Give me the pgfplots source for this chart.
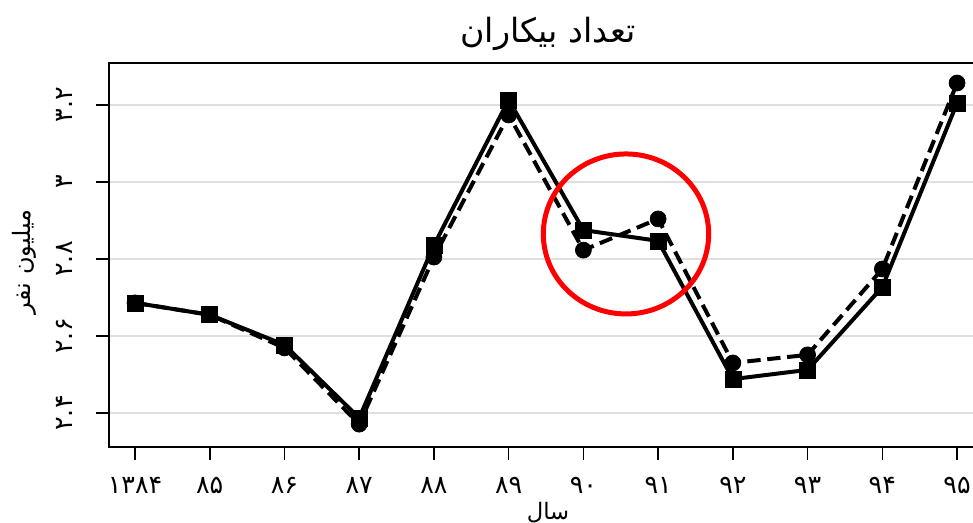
\documentclass[border=0pt]{standalone}
\usepackage{pgfplots}
\pgfplotsset{compat=1.18}
\usepackage{fontspec}
\TeXXeTstate=1
\newfontfamily\arabicfont[Script=Arabic]{DejaVu Sans}
\newfontfamily\digfont{DejaVu Sans}
\begin{document}
\begin{tikzpicture}
\begin{axis}[
  at={(0,0)}, anchor=south west,
  scale only axis, width=653.25pt, height=288pt,
  xmin=-0.348, xmax=11.307, ymin=2.3117, ymax=3.309,
  xtick={0,1,2,3,4,5,6,7,8,9,10,11},
  xticklabels={۱۳۸۴,۸۵,۸۶,۸۷,۸۸,۸۹,۹۰,۹۱,۹۲,۹۳,۹۴,۹۵},
  ytick={2.4,2.6,2.8,3,3.2},
  yticklabels={۲.۴,۲.۶,۲.۸,۳,۳.۲},
  xtick pos=left, ytick pos=left,
  tick align=outside, major tick length=10pt,
  tick style={black, line width=1.2pt},
  axis line style={line width=1pt},
  ymajorgrids, grid style={gray!25, line width=2pt},
  ticklabel style={font=\digfont\fontsize{19}{21}\selectfont},
  xticklabel style={anchor=north, yshift=-9pt},
  yticklabel style={rotate=90, anchor=south, yshift=14pt},
  title={\arabicfont\beginR تعداد بیکاران\endR},
  title style={at={(axis description cs:0.504,1.055)}, anchor=center, font=\fontsize{25}{29}\selectfont},
  xlabel={\arabicfont\beginR سال\endR},
  xlabel style={at={(axis description cs:0.504,-0.17)}, anchor=center, font=\fontsize{17}{19}\selectfont},
  ylabel={\arabicfont\beginR میلیون نفر\endR},
  ylabel style={at={(axis description cs:-0.097,0.482)}, anchor=center, rotate=0, font=\fontsize{18}{20}\selectfont},
]
\addplot[black, line width=3pt, dash pattern=on 10pt off 5pt, mark=*, mark size=6pt, mark options={solid, line width=0.5pt}]
coordinates {(0,2.686)(1,2.655)(2,2.569)(3,2.371)(4,2.805)(5,3.174)(6,2.823)(7,2.904)(8,2.530)(9,2.551)(10,2.774)(11,3.257)};
\addplot[black, line width=3pt, mark=square*, mark size=6pt, mark options={solid, line width=0.5pt}]
coordinates {(0,2.686)(1,2.655)(2,2.577)(3,2.387)(4,2.836)(5,3.213)(6,2.875)(7,2.847)(8,2.488)(9,2.512)(10,2.727)(11,3.205)};
\draw[red, line width=3.75pt] (axis cs:6.57,2.865) ellipse [x radius=62pt, y radius=60pt];
\end{axis}
\pgfresetboundingbox
\path (-81.75pt,-57pt) rectangle (648pt,335.25pt);
\end{tikzpicture}
\end{document}
